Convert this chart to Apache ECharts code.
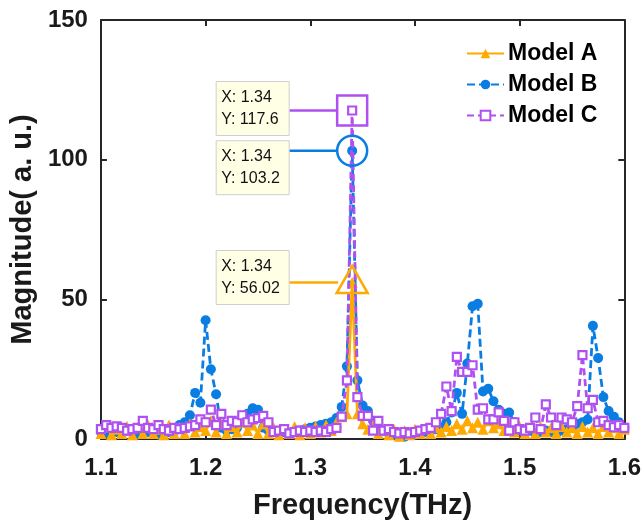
<!DOCTYPE html>
<html>
<head>
<meta charset="utf-8">
<script src="https://cdn.jsdelivr.net/npm/echarts@6/dist/echarts.min.js"></script>
<style>
  html, body { margin: 0; padding: 0; background: #ffffff; }
  #chart { width: 644px; height: 525px; }
</style>
</head>
<body>
<div id="chart"></div>
<script>
// Frequency grid (THz)
const freq = [
  1.100, 1.105, 1.110, 1.115, 1.120, 1.125, 1.130, 1.135, 1.140, 1.145,
  1.150, 1.155, 1.160, 1.165, 1.170, 1.175, 1.180, 1.185, 1.190, 1.195,
  1.200, 1.205, 1.210, 1.215, 1.220, 1.225, 1.230, 1.235, 1.240, 1.245,
  1.250, 1.255, 1.260, 1.265, 1.270, 1.275, 1.280, 1.285, 1.290, 1.295,
  1.300, 1.305, 1.310, 1.315, 1.320, 1.325, 1.330, 1.335, 1.340, 1.345,
  1.350, 1.355, 1.360, 1.365, 1.370, 1.375, 1.380, 1.385, 1.390, 1.395,
  1.400, 1.405, 1.410, 1.415, 1.420, 1.425, 1.430, 1.435, 1.440, 1.445,
  1.450, 1.455, 1.460, 1.465, 1.470, 1.475, 1.480, 1.485, 1.490, 1.495,
  1.500, 1.505, 1.510, 1.515, 1.520, 1.525, 1.530, 1.535, 1.540, 1.545,
  1.550, 1.555, 1.560, 1.565, 1.570, 1.575, 1.580, 1.585, 1.590, 1.595,
  1.600
];

// Magnitude spectra (a. u.)
const modelA = [
  2, 4.5, 1.5, 3.5, 2, 4.5, 1.5, 4, 2, 5,
  2, 3.5, 1.5, 5, 2, 4, 2, 5.5, 2.5, 4.5,
  3, 6.5, 2.5, 5.5, 2, 4.5, 2.5, 6, 3, 5,
  2, 5.5, 2, 4, 1.5, 3.5, 2, 4.5, 1.5, 4,
  2, 4.5, 2.5, 5, 3, 6, 8, 9, 56.02, 9,
  5.5, 3.5, 5, 2, 3.5, 1.5, 3.5, 1, 3, 1.5,
  3.5, 2, 4, 2, 4, 2.5, 4.5, 3, 5.5, 3.5,
  6.5, 4, 6, 3.5, 6.5, 4, 5.5, 3, 5, 2.5,
  4.5, 2, 4, 2, 4.5, 2.5, 4, 2, 4.5, 2.5,
  4, 2, 4.5, 2.5, 4, 2, 4.5, 2.5, 4, 2,
  3.5
];

const modelB = [
  2.5, 2, 3, 2.5, 2, 3, 2.5, 1.5, 2, 2.5,
  2, 1.5, 2, 2.5, 3, 5, 6, 8.5, 16.5, 13,
  42.5, 25, 16, 4, 3, 3.5, 4, 6, 9, 11,
  10.5, 4, 3, 2.5, 2, 2.5, 2, 2.5, 3, 3.5,
  4, 4.5, 5, 5.5, 6, 7.5, 11.5, 26, 103.2, 21,
  12, 10, 6.5, 4, 3, 2, 1.5, 1, 0.8, 1.5,
  1.5, 2, 2.5, 3, 3.5, 4, 6, 9.5, 16.5, 9,
  27, 47.5, 48.4, 17, 18, 13.5, 10.5, 9, 9.5, 6,
  3, 2.5, 3, 2, 2.5, 3, 2.5, 2, 3, 3.5,
  4, 5.5, 6, 7, 40.5, 29, 15, 10, 8, 6,
  4
];

const modelC = [
  3.5, 5, 4, 4.5, 4, 3, 3.5, 4, 6.5, 4,
  3.5, 5, 3.5, 3, 4, 3.5, 4, 4.5, 5, 7,
  6, 10.5, 5, 9, 5, 6.5, 6, 8.5, 6, 7,
  7.5, 8.3, 6, 2.5, 3, 3.5, 2, 2.5, 3, 2.5,
  3, 2.5, 3, 2.5, 3.5, 4, 8, 21, 117.6, 15,
  8.3, 8.3, 3, 6.5, 3, 3.5, 2.5, 2, 2.5, 2,
  2.5, 3, 3.5, 4, 6, 9, 18.8, 10, 29.4, 24,
  24, 26.4, 10.5, 11, 7, 7, 9.5, 6.5, 3, 6,
  3.5, 3, 4, 7.7, 3.5, 12.4, 7.7, 5, 7.7, 7,
  6, 11.8, 30, 11, 14, 6, 6.5, 5, 4.2, 5,
  4
];

const seriesNames = ['Model A', 'Model B', 'Model C'];
const xTicks = [1.1, 1.2, 1.3, 1.4, 1.5, 1.6];
const yTicks = [0, 50, 100, 150];

const COLORS = { A: '#FFAA00', B: '#0A7DE3', C: '#B050F0' };
const AXIS = '#262626';
const FONT = '"Liberation Sans", Arial, Helvetica, sans-serif';

const chart = echarts.init(document.getElementById('chart'), null, { renderer: 'canvas' });

const pairs = vals => freq.map((f, i) => [f, vals[i]]);
const peakIndex = vals => vals.indexOf(Math.max.apply(null, vals));

function peakMark(vals, symbol, size, color, offset) {
  const k = peakIndex(vals);
  return {
    symbol: symbol,
    symbolSize: size,
    symbolOffset: offset || [0, 0],
    silent: true,
    label: { show: false },
    itemStyle: { color: 'rgba(0,0,0,0)', borderColor: color, borderWidth: 2.5 },
    data: [{ coord: [freq[k], vals[k]] }]
  };
}

function baseAxis(pos, showLabel) {
  return {
    type: 'value',
    position: pos,
    axisLine: { show: true, onZero: false, lineStyle: { color: AXIS, width: 2 } },
    axisTick: { show: true, inside: true, length: 6, lineStyle: { color: AXIS, width: 2 } },
    splitLine: { show: false },
    axisLabel: { show: showLabel }
  };
}

const option = {
  animation: false,
  backgroundColor: '#ffffff',
  grid: { left: 96, right: 17, top: 20, bottom: 78, containLabel: false },
  legend: {
    orient: 'vertical',
    left: 466,
    top: 42,
    padding: 0,
    itemWidth: 37,
    itemHeight: 12,
    itemGap: 8,
    data: seriesNames,
    textStyle: { fontFamily: FONT, fontSize: 23, fontWeight: 'bold', color: '#000000', padding: [0, 0, 0, -1] }
  },
  xAxis: [
    Object.assign(baseAxis('bottom', true), {
      min: xTicks[0], max: xTicks[xTicks.length - 1], interval: 0.1,
      axisLabel: {
        show: true, margin: 17, color: '#1a1a1a', fontFamily: FONT, fontSize: 24, fontWeight: 'bold',
        formatter: v => v.toFixed(1)
      },
      name: 'Frequency(THz)', nameLocation: 'middle', nameGap: 52,
      nameTextStyle: { fontFamily: FONT, fontSize: 29, fontWeight: 'bold', color: '#1a1a1a' }
    }),
    Object.assign(baseAxis('top', false), {
      min: xTicks[0], max: xTicks[xTicks.length - 1], interval: 0.1
    })
  ],
  yAxis: [
    Object.assign(baseAxis('left', true), {
      min: yTicks[0], max: yTicks[yTicks.length - 1], interval: 50,
      axisLabel: { show: true, margin: 13, color: '#1a1a1a', fontFamily: FONT, fontSize: 24, fontWeight: 'bold' },
      name: 'Magnitude( a. u.)', nameLocation: 'middle', nameGap: 58,
      nameTextStyle: { fontFamily: FONT, fontSize: 29, fontWeight: 'bold', color: '#1a1a1a' }
    }),
    Object.assign(baseAxis('right', false), {
      min: yTicks[0], max: yTicks[yTicks.length - 1], interval: 50
    })
  ],
  series: [
    {
      name: seriesNames[0], type: 'line', data: pairs(modelA), z: 3,
      symbol: 'triangle', symbolSize: 11, showSymbol: true,
      lineStyle: { color: COLORS.A, width: 2.8 },
      itemStyle: { color: COLORS.A },
      markPoint: peakMark(modelA, 'triangle', [31, 27], COLORS.A, [0, -3])
    },
    {
      name: seriesNames[1], type: 'line', data: pairs(modelB), z: 2,
      symbol: 'circle', symbolSize: 10, showSymbol: true,
      lineStyle: { color: COLORS.B, width: 2.8, type: [8, 4] },
      itemStyle: { color: COLORS.B },
      markPoint: peakMark(modelB, 'circle', 30, COLORS.B)
    },
    {
      name: seriesNames[2], type: 'line', data: pairs(modelC), z: 4,
      symbol: 'rect', symbolSize: 8, showSymbol: true,
      lineStyle: { color: COLORS.C, width: 2.8, type: [7, 4] },
      itemStyle: { color: '#ffffff', borderColor: COLORS.C, borderWidth: 2.2 },
      markPoint: peakMark(modelC, 'rect', 30, COLORS.C)
    }
  ]
};

chart.setOption(option);

// Data-tip boxes placed beside each peak marker
const tips = [
  { vals: modelC, color: COLORS.C, dy: -29, gap: 15 },
  { vals: modelB, color: COLORS.B, dy: -10, gap: 15 },
  { vals: modelA, color: COLORS.A, dy: -32, gap: 14 }
];
const elements = [];
tips.forEach(t => {
  const k = peakIndex(t.vals);
  const p = chart.convertToPixel({ xAxisIndex: 0, yAxisIndex: 0 }, [freq[k], t.vals[k]]);
  const boxW = 73, boxH = 54;
  const bx = p[0] - 63 - boxW, by = p[1] + t.dy;
  elements.push({
    type: 'line', silent: true, z: 100,
    shape: { x1: bx + boxW, y1: p[1], x2: p[0] - t.gap, y2: p[1] },
    style: { stroke: t.color, lineWidth: 2.5 }
  });
  elements.push({
    type: 'rect', silent: true, z: 101,
    shape: { x: bx, y: by, width: boxW, height: boxH },
    style: { fill: '#FFFFE6', stroke: '#CFCFCF', lineWidth: 1 }
  });
  elements.push({
    type: 'text', silent: true, z: 102,
    x: bx + 5, y: by + 5,
    style: {
      text: 'X: ' + freq[k].toFixed(2) + '\nY: ' + String(t.vals[k]),
      font: '16px ' + FONT, fill: '#111111', lineHeight: 22,
      verticalAlign: 'top', align: 'left'
    }
  });
});
chart.setOption({ graphic: { elements: elements } });
</script>
</body>
</html>
